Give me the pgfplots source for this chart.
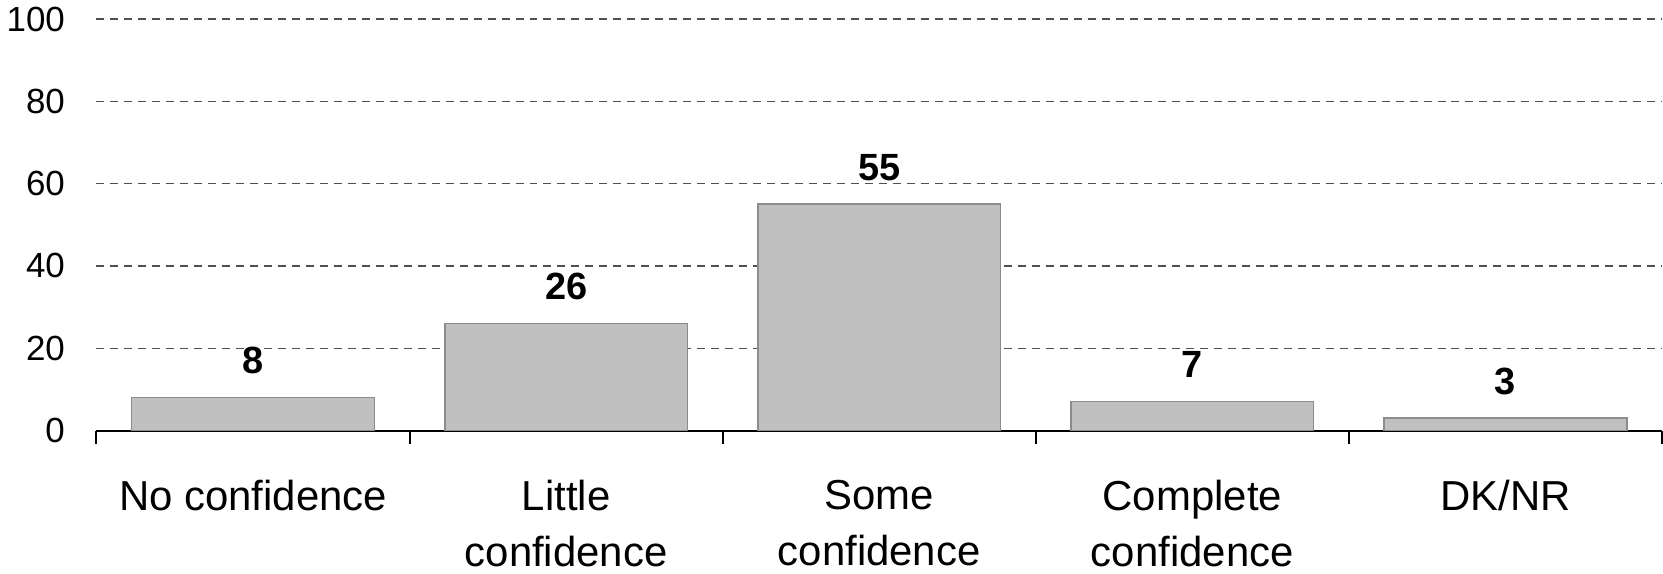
\documentclass[border=0pt]{standalone}
\usepackage{pgfplots}
\pgfplotsset{compat=1.18}
\usepackage{fontspec}
\setmainfont{Liberation Sans}
\definecolor{barfill}{HTML}{C0C0C0}
\definecolor{baredge}{HTML}{8C8C8C}
\definecolor{gridc}{HTML}{505050}
\begin{document}
\begin{tikzpicture}
\begin{axis}[
  scale only axis,
  width=784.5pt, height=206.2pt,
  xmin=-0.5, xmax=4.5,
  ymin=0, ymax=100,
  ytick={0,20,...,100},
  xtick={0,1,2,3,4},
  xticklabels={No confidence, Little\\confidence, Some\\confidence, Complete\\confidence, DK/NR},
  minor xtick={-0.5,0.5,1.5,2.5,3.5,4.5},
  major x tick style={draw=none},
  minor tick length=7pt,
  tick align=outside,
  xtick pos=bottom,
  ytick pos=left,
  ytick style={draw=none},
  axis x line*=bottom,
  axis y line*=left,
  x axis line style={line width=1pt, -},
  y axis line style={draw=none},
  minor x tick style={line width=1pt, black},
  ymajorgrids,
  grid style={gridc, dash pattern=on 4pt off 3pt, line width=0.7pt},
  /pgf/number format/assume math mode=true,
  yticklabel style={font=\fontsize{17.5}{20}\selectfont, xshift=-8pt},
  xticklabel style={font=\fontsize{21}{28}\selectfont, align=center, yshift=-17pt},
  ybar,
  bar width=0.775,
  nodes near coords,
  nodes near coords style={font=\fontsize{19}{22}\selectfont\bfseries, anchor=base, yshift=12pt},
  clip=false,
]
\addplot[fill=barfill, draw=baredge, line width=0.75pt] coordinates {(0,8) (1,26) (2,55) (3,7) (4,3)};
\end{axis}
\end{tikzpicture}
\end{document}
